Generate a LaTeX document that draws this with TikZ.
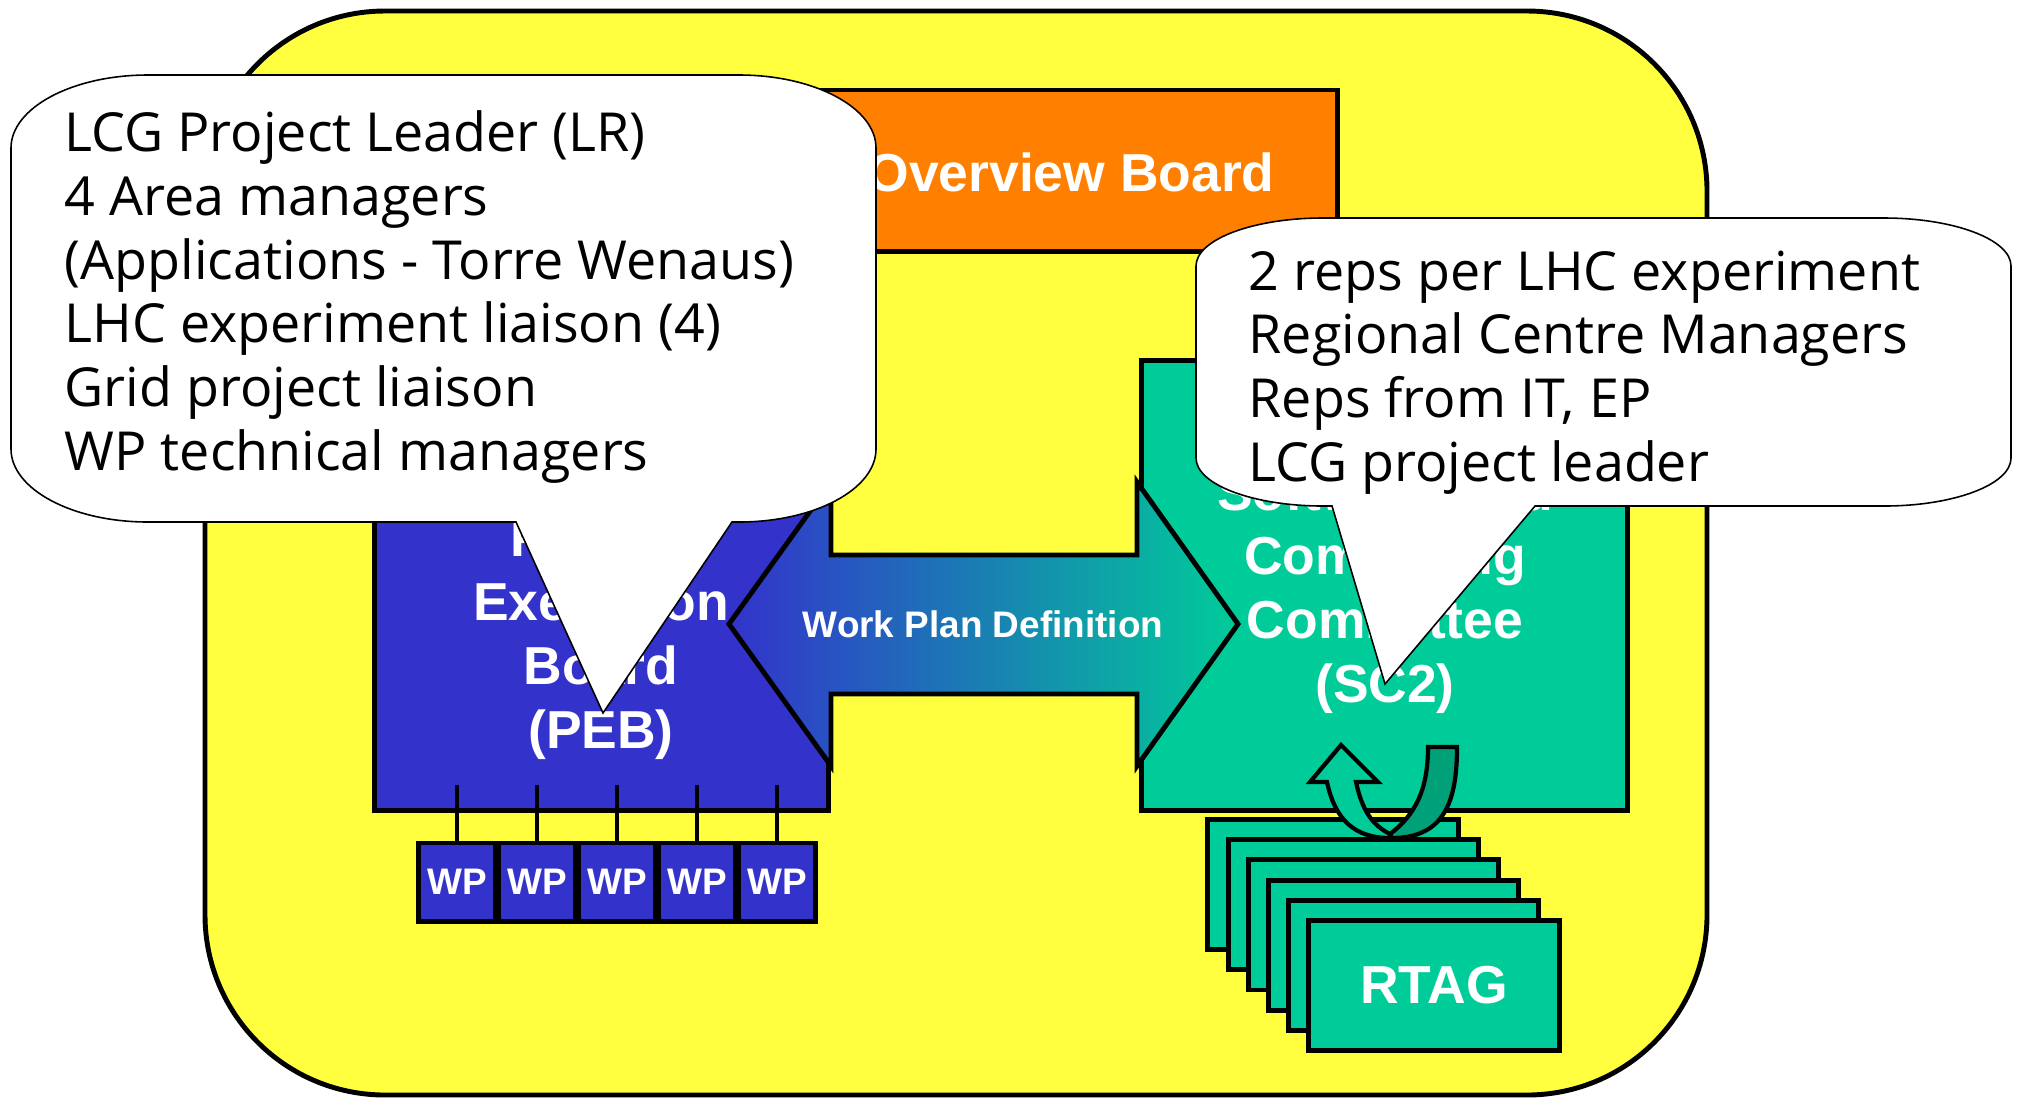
\documentclass[tikz,border=0pt]{standalone}
\usepackage{fontspec}
\setmainfont{Liberation Sans}
\newfontfamily\notefont{Open Sans}
\usepackage{tikz}
\usetikzlibrary{positioning,shadings}
\definecolor{boardyellow}{RGB}{255,255,64}
\definecolor{poborange}{RGB}{255,128,0}
\definecolor{pebblue}{RGB}{51,51,204}
\definecolor{scgreen}{RGB}{0,204,153}
\definecolor{scdark}{RGB}{0,160,120}
\tikzset{
  thickline/.style={line width=1.4pt},
  board/.style={draw, thickline, rectangle, inner sep=0pt},
  boardtext/.style={text=white, font=\fontsize{15.2}{18.2}\selectfont\bfseries, align=center, inner sep=0pt},
  smalltext/.style={text=white, font=\fontsize{10.5}{12}\selectfont\bfseries, inner sep=0pt},
  wpbox/.style={board, fill=pebblue, minimum width=0.77cm, minimum height=0.78cm, smalltext},
  rtagbox/.style={board, fill=scgreen, minimum width=2.5cm, minimum height=1.3cm},
  balloon/.style={draw, fill=white, line width=0.45pt},
  notetext/.style={font=\notefont\fontsize{15.3}{18.1}\selectfont, align=left, inner sep=0pt, anchor=base west},
}
\begin{document}
\begin{tikzpicture}[x=0.01cm, y=-0.01cm]
\useasboundingbox (0,0) rectangle (2022,1099);
% yellow frame
\draw[thickline, fill=boardyellow, rounded corners=1.8cm] (205,11) rectangle (1707,1095);
% boards
\node[board, fill=poborange, minimum width=6.97cm, minimum height=1.61cm] (pob) at (988.5,170.5) {};
\node[boardtext, anchor=base] (pobtext) at (1071,191) {Overview Board};
\node[board, fill=pebblue, minimum width=4.535cm, minimum height=3.42cm] (peb) at (601.75,639) {};
\node[boardtext, anchor=base] (pebtext) at (601,748) {Project\\Execution\\Board\\(PEB)};
\node[board, fill=scgreen, minimum width=4.85cm, minimum height=4.49cm] (sc2) at (1384.5,585.5) {};
\node[boardtext, anchor=base] (sc2text) at (1385,702) {Software and\\Computing\\Committee\\(SC2)};
% work packages
\foreach \i in {1,...,5} {
  \node[wpbox] (wp\i) at ({377+80*\i},882) {WP};
  \coordinate (c\i) at ({377+80*\i},785);
  \draw[thickline] (c\i) -- (wp\i);
}
% work plan arrow
\draw[thickline, left color=pebblue, right color=scgreen]
  (729,624) -- (831,482) -- (831,555) -- (1137,555) -- (1137,482) -- (1238,624)
  -- (1137,766) -- (1137,694) -- (831,694) -- (831,766) -- cycle;
\node[smalltext, anchor=base] (wpd) at (983,637) {Work Plan Definition};
% RTAG stack
\foreach \i in {0,...,4}
  \node[rtagbox] (rtag\i) at ({1333+20.2*\i},{884.5+20.2*\i}) {};
\node[rtagbox, boardtext] (rtag) at (1434,985.5) {RTAG};
% turn arrow
\draw[line width=1.2pt, fill=scdark] (1428,747) -- (1457,747)
  .. controls (1457,800) and (1445,838) .. (1392,838) -- (1390,834)
  .. controls (1415,815) and (1428,790) .. (1428,747) -- cycle;
\draw[line width=1.2pt, fill=scgreen] (1390,838)
  .. controls (1355,838) and (1335,820) .. (1327,782) -- (1310,782) -- (1341,745)
  -- (1378,782) -- (1356,782) .. controls (1362,810) and (1372,825) .. (1390,834) -- cycle;
% callouts
\draw[balloon] (148,75) -- (739,75) .. controls (815,75) and (876,108) .. (876,148)
  -- (876,449) .. controls (876,489) and (815,522) .. (739,522) -- (732,522) -- (603,713)
  -- (516,522) -- (148,522) .. controls (72,522) and (11,489) .. (11,449)
  -- (11,148) .. controls (11,108) and (72,75) .. (148,75) -- cycle;
\node[notetext] (pebnote) at (64,470) {LCG Project Leader (LR)\\4 Area managers\\(Applications - Torre Wenaus)\\LHC experiment liaison (4)\\Grid project liaison\\WP technical managers};
\draw[balloon] (1323,218) -- (1884,218) .. controls (1954,218) and (2011,239.5) .. (2011,266)
  -- (2011,458) .. controls (2011,484.5) and (1954,506) .. (1884,506) -- (1535,506) -- (1385,684)
  -- (1332,506) -- (1323,506) .. controls (1253,506) and (1196,484.5) .. (1196,458)
  -- (1196,266) .. controls (1196,239.5) and (1253,218) .. (1323,218) -- cycle;
\node[notetext] (sc2note) at (1248,481) {2 reps per LHC experiment\\Regional Centre Managers\\Reps from IT, EP\\LCG project leader};
\end{tikzpicture}
\end{document}
